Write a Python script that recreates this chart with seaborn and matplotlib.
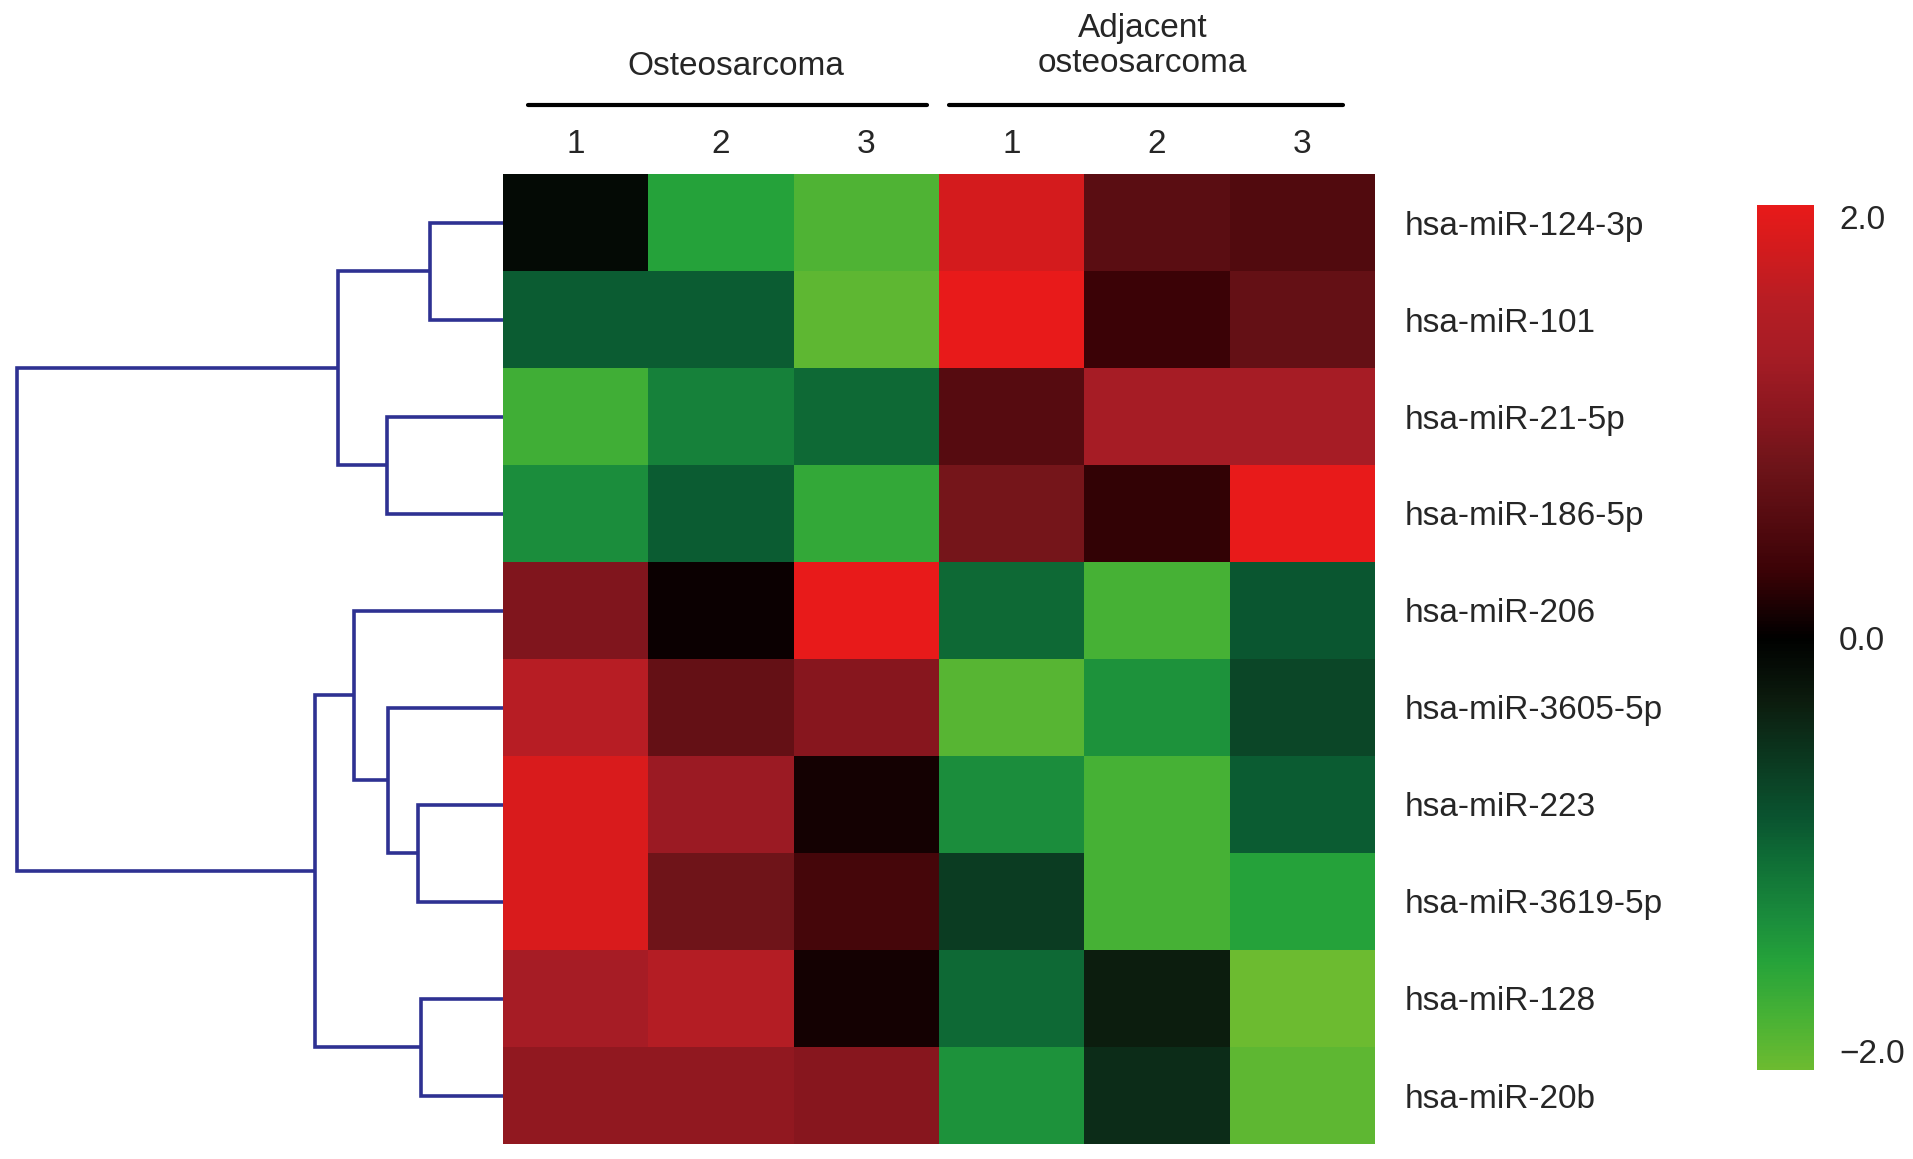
import numpy as np
import pandas as pd
import matplotlib
matplotlib.use("Agg")
import matplotlib.pyplot as plt
import seaborn as sns
from matplotlib.colors import LinearSegmentedColormap

# ---------------- data ----------------
rows = ["hsa-miR-124-3p", "hsa-miR-101", "hsa-miR-21-5p", "hsa-miR-186-5p",
        "hsa-miR-206", "hsa-miR-3605-5p", "hsa-miR-223", "hsa-miR-3619-5p",
        "hsa-miR-128", "hsa-miR-20b"]
col_labels = ["1", "2", "3", "1", "2", "3"]
groups = ["Osteosarcoma", "Adjacent\nosteosarcoma"]

osteo_1 = [-0.1, -0.9, -1.7, -1.3, 0.95, 1.55, 1.85, 1.85, 1.3, 1.1]
osteo_2 = [-1.5, -0.9, -1.2, -0.9, 0.05, 0.7, 1.2, 0.8, 1.5, 1.1]
osteo_3 = [-1.8, -1.9, -1.0, -1.6, 2.0, 1.0, 0.1, 0.4, 0.1, 1.0]
adj_1 = [1.8, 2.0, 0.55, 0.85, -1.0, -1.85, -1.3, -0.6, -1.0, -1.35]
adj_2 = [0.6, 0.3, 1.3, 0.25, -1.75, -1.35, -1.75, -1.75, -0.3, -0.45]
adj_3 = [0.5, 0.7, 1.3, 2.0, -0.85, -0.7, -0.9, -1.5, -2.0, -1.9]

# dendrogram merges: (left child, right child, height); leaves 0..9, new nodes 10..
merge_left = [0, 2, 10, 6, 5, 4, 8, 15, 12]
merge_right = [1, 3, 11, 7, 13, 14, 9, 16, 17]
merge_height = [0.60, 0.95, 1.35, 0.70, 0.94, 1.22, 0.67, 1.54, 3.98]

cbar_ticks = [2.0, 0.0, -2.0]
cbar_ticklabels = ["2.0", "0.0", "\u22122.0"]

# ---------------- style ----------------
sns.set_theme(style="white")
plt.rcParams["font.family"] = ["Liberation Sans", "DejaVu Sans"]

stops = [(-2.0, "#6cbb30"), (-1.75, "#46b135"), (-1.5, "#25a23a"),
         (-1.3, "#1a8c3c"), (-1.0, "#0e6a35"), (-0.85, "#0a5530"),
         (-0.6, "#0b3c22"), (-0.3, "#0c1c0e"), (0.0, "#000000"),
         (0.3, "#3a0206"), (0.55, "#550b10"), (0.8, "#6e1419"),
         (1.0, "#86161e"), (1.3, "#a51c25"), (1.55, "#b61d24"),
         (1.85, "#d81b1c"), (2.0, "#e81a1a")]
cmap = LinearSegmentedColormap.from_list(
    "rg", [((v + 2) / 4, c) for v, c in stops])

df = pd.DataFrame({"o1": osteo_1, "o2": osteo_2, "o3": osteo_3,
                   "a1": adj_1, "a2": adj_2, "a3": adj_3}, index=rows)

W, H = 1913, 1159
fig = plt.figure(figsize=(W / 100, H / 100), dpi=100)

hm_left, hm_right, hm_top, hm_bottom = 503, 1375, 174, 1144
ax = fig.add_axes([hm_left / W, 1 - hm_bottom / H,
                   (hm_right - hm_left) / W, (hm_bottom - hm_top) / H])
cax = fig.add_axes([1757 / W, 1 - 1070 / H, 57 / W, 865 / H])
dax = fig.add_axes([0, 1 - hm_bottom / H, hm_left / W, (hm_bottom - hm_top) / H])

sns.heatmap(df, ax=ax, cmap=cmap, vmin=-2, vmax=2, cbar_ax=cax,
            xticklabels=col_labels, yticklabels=rows,
            cbar_kws={"ticks": cbar_ticks})

ax.xaxis.tick_top()
ax.tick_params(axis="x", length=0, pad=10, labelsize=24, labelrotation=0)
ax.yaxis.tick_right()
ax.tick_params(axis="y", length=0, pad=21, labelsize=24, labelrotation=0)
for t in ax.get_yticklabels():
    t.set_ha("left")

cbar = ax.collections[0].colorbar
cbar.set_ticks(cbar_ticks)
cbar.set_ticklabels(cbar_ticklabels)
cbar.outline.set_visible(False)
cax.tick_params(length=0, pad=18, labelsize=24)
tl = cax.get_yticklabels()
tl[0].set_va("top")
tl[2].set_va("bottom")

# group headers
ax.plot([0.17, 2.92], [1.071, 1.071], color="black", lw=3,
        transform=ax.get_xaxis_transform(), clip_on=False)
ax.plot([3.07, 5.78], [1.071, 1.071], color="black", lw=3,
        transform=ax.get_xaxis_transform(), clip_on=False)
ax.text(1.6, 1.111, groups[0], transform=ax.get_xaxis_transform(),
        ha="center", va="center", fontsize=24)
ax.text(4.4, 1.132, groups[1], transform=ax.get_xaxis_transform(),
        ha="center", va="center", fontsize=24, linespacing=1.2)

# dendrogram
n = len(rows)
pos = {i: i + 0.5 for i in range(n)}
hgt = {i: 0.0 for i in range(n)}
lc = "#2e3192"
for k, (a, b, h) in enumerate(zip(merge_left, merge_right, merge_height)):
    node = n + k
    ya, yb = pos[a], pos[b]
    dax.plot([hgt[a], h, h, hgt[b]], [ya, ya, yb, yb], color=lc, lw=2.6,
             solid_joinstyle="miter", solid_capstyle="butt")
    pos[node] = (ya + yb) / 2
    hgt[node] = h
dax.set_xlim(4.12, 0)
dax.set_ylim(n, 0)
dax.axis("off")

fig.savefig("out.png", dpi=100)
